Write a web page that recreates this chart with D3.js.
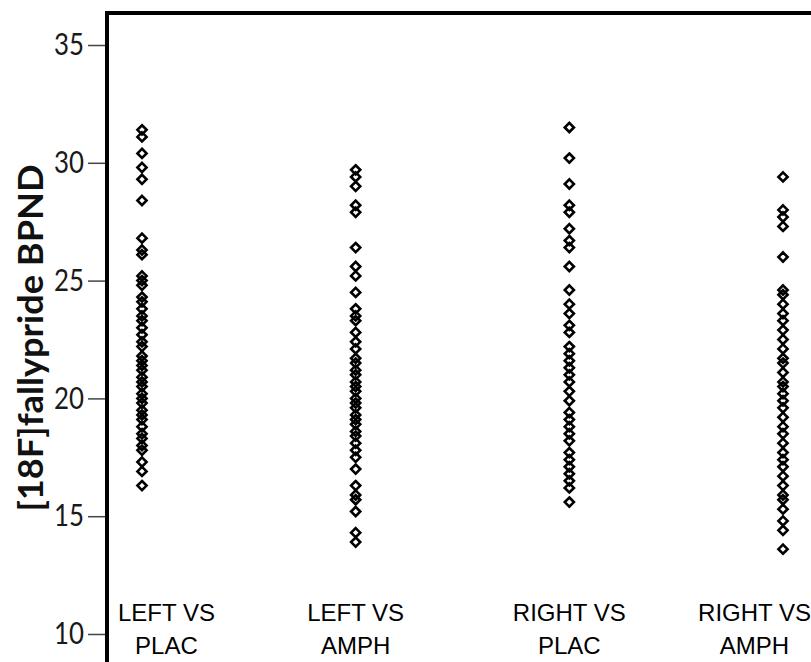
<!DOCTYPE html>
<html>
<head>
<meta charset="utf-8">
<script src="https://cdn.jsdelivr.net/npm/d3@7"></script>
<style>
  body { margin: 0; background: #fff; }
  svg { display: block; }
</style>
</head>
<body>
<script>
// data
let groups = ["LEFT VS PLAC", "LEFT VS AMPH", "RIGHT VS PLAC", "RIGHT VS AMPH"];
let groupLines = [["LEFT VS", "PLAC"], ["LEFT VS", "AMPH"], ["RIGHT VS", "PLAC"], ["RIGHT VS", "AMPH"]];

let leftPlac = [31.4, 31.1, 30.4, 29.8, 29.3, 28.4, 26.8, 26.3, 26.1, 25.2, 25.0, 24.8,
  24.3, 24.1, 23.8, 23.5, 23.3, 23.0, 22.7, 22.4, 22.2, 21.8, 21.6, 21.4, 21.2, 20.9,
  20.7, 20.5, 20.2, 20.0, 19.8, 19.5, 19.3, 19.1, 18.8, 18.5, 18.3, 18.0, 17.8, 17.3,
  16.9, 16.3];
let leftAmph = [29.7, 29.4, 29.0, 28.2, 27.9, 26.4, 25.6, 25.2, 24.5, 23.8, 23.5, 23.3,
  22.8, 22.4, 22.1, 21.7, 21.5, 21.2, 21.0, 20.7, 20.5, 20.3, 20.0, 19.8, 19.6, 19.3,
  19.1, 18.9, 18.6, 18.4, 18.1, 17.8, 17.5, 17.0, 16.3, 15.9, 15.7, 15.2, 14.3, 13.9];
let rightPlac = [31.5, 30.2, 29.1, 28.2, 27.9, 27.2, 26.7, 26.4, 25.6, 24.6, 24.0, 23.6,
  23.1, 22.8, 22.2, 21.9, 21.6, 21.3, 21.0, 20.7, 20.3, 19.9, 19.4, 19.1, 18.8, 18.5,
  18.2, 17.7, 17.4, 17.1, 16.8, 16.5, 16.2, 15.6];
let rightAmph = [29.4, 28.0, 27.7, 27.3, 26.0, 24.6, 24.4, 24.0, 23.6, 23.3, 22.9, 22.5,
  22.1, 21.7, 21.5, 21.1, 20.7, 20.5, 20.2, 19.9, 19.6, 19.2, 18.8, 18.5, 18.1, 17.7,
  17.4, 17.1, 16.7, 16.3, 15.9, 15.7, 15.3, 14.8, 14.4, 13.6];

let yTicks = [10, 15, 20, 25, 30, 35];
let yLabel = "[18F]fallypride BPND";

let series = [leftPlac, leftAmph, rightPlac, rightAmph];

// size of the page
let width = 811, height = 662;

let svg = d3.select("body").append("svg")
  .attr("width", width)
  .attr("height", height);

// scales
let x = d3.scalePoint().domain(groups).range([142, 783]);
let y = d3.scaleLinear().domain([10, 35]).range([634, 45]);

let frameX = 107, frameTop = y(36.36);

// the y axis: ticks and labels
let axis = svg.append("g")
  .attr("transform", "translate(" + (frameX - 2) + ",0)")
  .call(d3.axisLeft(y).tickValues(yTicks).tickSize(17).tickPadding(4));
axis.select(".domain").remove();
axis.selectAll(".tick line")
  .attr("stroke", "#444")
  .attr("stroke-width", 1.5);
axis.selectAll(".tick text")
  .attr("fill", "#1a1a1a")
  .attr("font-family", "Lato, 'Open Sans', sans-serif")
  .attr("font-size", 30)
  .attr("textLength", 30)
  .attr("lengthAdjust", "spacingAndGlyphs");

// frame: left and top border
svg.append("line")
  .attr("x1", frameX).attr("x2", frameX)
  .attr("y1", frameTop - 2).attr("y2", height)
  .attr("stroke", "#000").attr("stroke-width", 4);
svg.append("line")
  .attr("x1", frameX - 2).attr("x2", width)
  .attr("y1", frameTop).attr("y2", frameTop)
  .attr("stroke", "#000").attr("stroke-width", 4);

// y axis title
svg.append("text")
  .attr("transform", "translate(43," + 338 + ") rotate(-90)")
  .attr("text-anchor", "middle")
  .attr("font-family", "Lato, 'Open Sans', sans-serif")
  .attr("font-weight", "bold")
  .attr("font-size", 35)
  .attr("textLength", 347)
  .attr("lengthAdjust", "spacingAndGlyphs")
  .attr("fill", "#111")
  .text(yLabel);

// open diamonds
let diamond = {
  draw: function(ctx, size) {
    let r = Math.sqrt(size / 2);
    ctx.moveTo(0, -r);
    ctx.lineTo(r, 0);
    ctx.lineTo(0, r);
    ctx.lineTo(-r, 0);
    ctx.closePath();
  }
};
let sym = d3.symbol().type(diamond).size(42);

series.forEach(function(vals, i) {
  svg.append("g")
    .selectAll("path")
    .data(vals)
    .enter().append("path")
    .attr("transform", function(d) {
      return "translate(" + x(groups[i]) + "," + y(d) + ")";
    })
    .attr("d", sym)
    .attr("fill", "none")
    .attr("stroke", "#000")
    .attr("stroke-width", 2.6);
});

// category labels, kept inside the frame
groupLines.forEach(function(lines, i) {
  let t = svg.append("text")
    .attr("font-family", "'Liberation Sans', Arial, sans-serif")
    .attr("font-size", 24)
    .attr("fill", "#000")
    .attr("text-anchor", "middle");
  let spans = t.selectAll("tspan")
    .data(lines)
    .enter().append("tspan")
    .attr("y", function(d, j) { return 621 + j * 33; })
    .text(function(d) { return d; });
  let w = d3.max(spans.nodes(), function(n) { return n.getComputedTextLength(); });
  let cx = x(groups[i]);
  cx = Math.max(cx, 118 + w / 2);
  cx = Math.min(cx, width - w / 2);
  spans.attr("x", cx);
});
</script>
</body>
</html>
